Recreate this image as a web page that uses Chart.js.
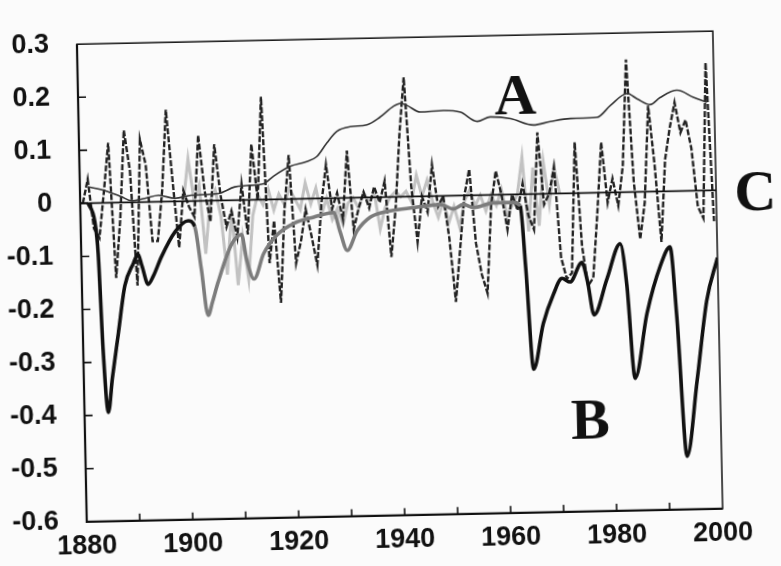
<!DOCTYPE html>
<html lang="en">
<head>
<meta charset="UTF-8">
<title>Forcing curves A, B, C</title>
<script src="https://cdn.jsdelivr.net/npm/chart.js"></script>
<style>
    html, body { margin: 0; padding: 0; background: #fbfbfb; overflow: hidden; }
    #wrap { width: 781px; height: 566px; position: relative; }
    /* the scanned original is tilted by about a degree */
    #chart { transform-origin: 80px 193px; transform: rotate(-1.18deg); }
</style>
</head>
<body>
<div id="wrap">
    <canvas id="chart" width="781" height="566"></canvas>
</div>
<script>
// curve A (thin, slowly rising)
const aYears = [1881.5, 1884.7, 1887.8, 1889.7, 1892.2, 1894.8, 1897.9, 1901, 1906, 1909.2, 1911.4,
    1914.7, 1916.6, 1919.8, 1922.9, 1924.8, 1926.8, 1928.7, 1931.2, 1934.4, 1936.9, 1939.5, 1940.8,
    1942, 1944.5, 1948.9, 1952.1, 1955.2, 1957.7, 1961.5, 1965.8, 1969, 1972.8, 1977.8, 1980.4,
    1983.6, 1985.5, 1987.9, 1989.8, 1993, 1996.1, 1998.6];
const aValues = [0.031, 0.023, 0.011, 0.003, 0.007, 0.012, 0.006, 0.011, 0.013, 0.025, 0.027,
    0.030, 0.044, 0.062, 0.070, 0.079, 0.105, 0.126, 0.134, 0.137, 0.151, 0.171, 0.176,
    0.172, 0.159, 0.161, 0.157, 0.139, 0.147, 0.143, 0.130, 0.136, 0.141, 0.142, 0.164,
    0.186, 0.175, 0.164, 0.177, 0.19, 0.176, 0.166];

// curve B (thick, volcanic dips)
const bYears = [1881.5, 1882.7, 1883.2, 1883.75, 1884.5, 1885.4, 1886.7, 1888.1, 1889.8, 1890.7,
    1891.4, 1892.5, 1893.5, 1895.1, 1897.8, 1900.3, 1901.5, 1902.6, 1903.7, 1904.6, 1905.7, 1908.4,
    1910.3, 1911.2, 1912.5, 1914.4, 1917, 1920.2, 1924, 1927.8, 1928.9, 1930.2, 1932.1, 1934.7,
    1938.5, 1942.9, 1947.9, 1950.4, 1952.3, 1954.2, 1958, 1961.8, 1963, 1963.8, 1964.9, 1966.9,
    1968.9, 1970.6, 1972.1, 1974.4, 1975.4, 1976.5, 1979.1, 1981.7, 1982.8, 1984, 1986.5, 1989.2,
    1991.1, 1992.1, 1993.5, 1995.7, 1997.8, 2000];
const bValues = [0, -0.036, -0.096, -0.276, -0.395, -0.33, -0.246, -0.157, -0.115, -0.098,
    -0.12, -0.155, -0.14, -0.104, -0.057, -0.037, -0.048, -0.129, -0.216, -0.19, -0.154, -0.083,
    -0.065, -0.113, -0.149, -0.102, -0.067, -0.046, -0.035, -0.027, -0.063, -0.099, -0.063, -0.037,
    -0.026, -0.021, -0.016, -0.025, -0.017, -0.023, -0.015, -0.015, -0.022, -0.14, -0.33, -0.244,
    -0.19, -0.16, -0.167, -0.131, -0.167, -0.23, -0.162, -0.097, -0.175, -0.351, -0.229, -0.14,
    -0.105, -0.236, -0.5, -0.357, -0.208, -0.127];
const bGreyFrom = 1901.5, bGreyTo = 1963;

// curve C (annual, spiky), 1880-1999
const cStart = 1880;
const cValues = [0.0, 0.045, -0.048, -0.066, 0.02, 0.113, -0.142, -0.03, 0.136, 0.06,
    -0.157, 0.118, 0.07, -0.074, -0.074, 0.02, 0.173, 0.04, -0.087, 0.02,
    -0.01, -0.03, 0.124, 0.02, -0.04, 0.106, 0.01, -0.05, -0.02, -0.07,
    0.03, -0.065, 0.105, 0.0, 0.194, -0.12, -0.04, -0.195, -0.02, 0.083,
    -0.121, -0.08, -0.02, -0.07, -0.125, -0.01, 0.063, -0.02, 0.01, -0.04,
    0.089, -0.06, -0.02, 0.01, -0.02, 0.02, -0.01, 0.03, -0.113, -0.02,
    0.12, 0.225, 0.02, -0.086, 0.0, -0.03, 0.059, -0.02, 0.0, -0.08,
    -0.2, -0.1, 0.0, 0.049, -0.09, -0.15, -0.185, -0.02, 0.045, 0.0,
    -0.066, 0.0, -0.03, 0.02, -0.04, -0.067, 0.116, -0.02, 0.0, 0.05,
    -0.12, -0.161, -0.15, 0.096, -0.1, -0.175, -0.16, -0.04, 0.095, -0.019,
    0.026, -0.025, 0.05, 0.25, 0.02, -0.089, -0.02, 0.162, 0.05, -0.095,
    0.06, 0.12, 0.167, 0.11, 0.134, 0.08, -0.03, -0.052, 0.241, -0.058];

// faint grey annual trace, 1899-1970
const dStart = 1899;
const dValues = [0.0, 0.08, 0.0, 0.03, -0.1, 0.0, 0.02, -0.03, -0.14, -0.02,
    -0.16, -0.07, -0.15, -0.03, 0.01, -0.01, 0.02, -0.02, 0.01, -0.01,
    0.02, 0.0, -0.02, 0.03, -0.01, 0.02, -0.03, 0.0, -0.04, -0.02,
    -0.05, -0.01, 0.0, -0.02, 0.01, -0.01, 0.01, -0.06, -0.02, 0.0,
    0.01, 0.0, 0.01, -0.01, 0.04, 0.0, 0.03, -0.01, -0.04, -0.01,
    -0.05, -0.02, -0.06, -0.01, 0.01, -0.02, 0.0, -0.03, 0.0, -0.02,
    0.01, -0.04, -0.02, 0.0, 0.07, -0.07, 0.05, -0.06, 0.06, -0.02,
    0.05, 0.0];

const xTickLabels = [1880, 1900, 1920, 1940, 1960, 1980, 2000];
const xMinorTicks = [1890, 1900, 1910, 1920, 1930, 1940, 1950, 1960, 1970, 1980, 1990];
const yTickValues = [0.2, 0.1, 0, -0.1, -0.2, -0.3, -0.4, -0.5];
const curveLabels = [
    { text: 'A', x: 1962.5, y: 0.18 },
    { text: 'B', x: 1975.4, y: -0.434 },
    { text: 'C', x: 2007.4, y: -0.01 }
];

const pts = (xs, ys) => xs.map((x, i) => ({ x: x, y: ys[i] }));
const annual = (start, ys) => ys.map((v, i) => ({ x: start + i + 0.5, y: v }));

const tickFont = { family: '"Liberation Sans", Arial, sans-serif', size: 27, weight: 'bold' };

const framePlugin = {
    id: 'frame',
    afterDraw(chart) {
        const { ctx, chartArea: a, scales: { x, y } } = chart;
        ctx.save();
        ctx.strokeStyle = '#111';
        ctx.lineWidth = 1.5;
        ctx.strokeRect(a.left, a.top, a.right - a.left, a.bottom - a.top);
        ctx.lineWidth = 2.2;
        ctx.beginPath();
        ctx.moveTo(a.left, a.top);
        ctx.lineTo(a.left, a.bottom);
        ctx.lineTo(a.right, a.bottom);
        ctx.stroke();

        ctx.lineWidth = 1.6;
        ctx.beginPath();
        yTickValues.forEach(v => {
            const py = y.getPixelForValue(v);
            ctx.moveTo(a.left, py);
            ctx.lineTo(a.left + 8, py);
        });
        xMinorTicks.forEach(v => {
            const px = x.getPixelForValue(v);
            ctx.moveTo(px, a.bottom);
            ctx.lineTo(px, a.bottom - 7);
        });
        ctx.stroke();

        ctx.fillStyle = '#111';
        ctx.font = 'bold 58px "Liberation Serif", "DejaVu Serif", serif';
        ctx.textAlign = 'center';
        ctx.textBaseline = 'middle';
        curveLabels.forEach(l => {
            ctx.fillText(l.text, x.getPixelForValue(l.x), y.getPixelForValue(l.y));
        });
        ctx.restore();
    }
};

new Chart(document.getElementById('chart'), {
    type: 'line',
    data: {
        datasets: [
            {
                label: 'B',
                data: pts(bYears, bValues),
                borderColor: '#111',
                borderWidth: 3.6,
                cubicInterpolationMode: 'monotone',
                segment: {
                    borderColor: c => (c.p0.parsed.x >= bGreyFrom && c.p1.parsed.x <= bGreyTo) ? '#7c7c7c' : '#111'
                },
                order: 0
            },
            {
                label: 'zero',
                data: [{ x: 1880, y: 0 }, { x: 2000, y: 0 }],
                borderColor: '#111',
                borderWidth: 1.6,
                order: 1
            },
            {
                label: 'A',
                data: pts(aYears, aValues),
                borderColor: '#333',
                borderWidth: 1.6,
                cubicInterpolationMode: 'monotone',
                order: 2
            },
            {
                label: 'C',
                data: annual(cStart, cValues),
                borderColor: '#222',
                borderWidth: 2.4,
                borderDash: [6, 2],
                order: 3
            },
            {
                label: 'D',
                data: annual(dStart, dValues),
                borderColor: '#c2c2c2',
                borderWidth: 3,
                order: 4
            }
        ]
    },
    options: {
        responsive: false,
        animation: false,
        devicePixelRatio: 1,
        elements: { point: { radius: 0 }, line: { tension: 0 } },
        layout: { padding: { top: 26, right: 65, left: 0, bottom: 0 } },
        plugins: { legend: { display: false }, tooltip: { enabled: false } },
        scales: {
            x: {
                type: 'linear',
                min: 1880,
                max: 2000,
                grid: { display: false, drawTicks: false },
                border: { display: false },
                afterFit: s => { s.height = 38; },
                afterBuildTicks: s => { s.ticks = xTickLabels.map(v => ({ value: v })); },
                ticks: {
                    autoSkip: false,
                    maxRotation: 0,
                    padding: 9,
                    color: '#111',
                    font: tickFont,
                    callback: v => String(v)
                }
            },
            y: {
                min: -0.6,
                max: 0.3,
                grid: { display: false, drawTicks: false },
                border: { display: false },
                afterFit: s => { s.width = 80; },
                ticks: {
                    stepSize: 0.1,
                    padding: 28,
                    color: '#111',
                    font: tickFont,
                    callback: v => {
                        const r = Math.round(v * 10) / 10;
                        return r === 0 ? '0' : r.toFixed(1);
                    }
                }
            }
        }
    },
    plugins: [framePlugin]
});
</script>
</body>
</html>
